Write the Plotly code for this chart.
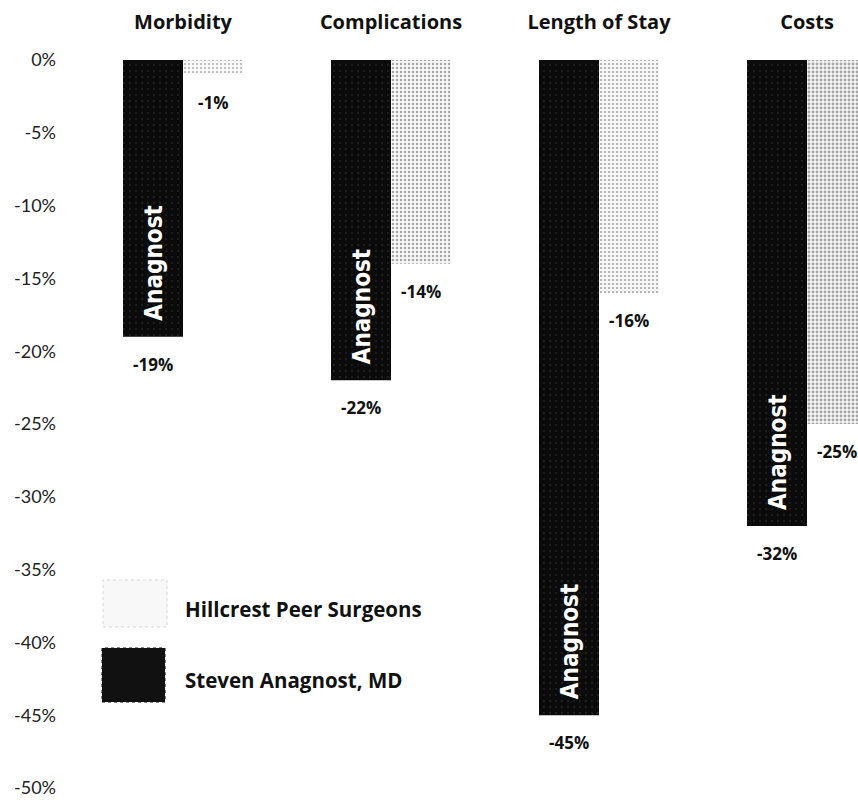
import plotly.graph_objects as go

# Change vs. baseline, in percent
categories = ["Morbidity", "Complications", "Length of Stay", "Costs"]
anagnost = [-19, -22, -45, -32]
peers = [-1, -14, -16, -25]
series_names = ["Steven Anagnost, MD", "Hillcrest Peer Surgeons"]
bar_tag = "Anagnost"

y_ticks = [0, -5, -10, -15, -20, -25, -30, -35, -40, -45, -50]
y_tick_labels = ["0%", "-5%", "-10%", "-15%", "-20%", "-25%",
                 "-30%", "-35%", "-40%", "-45%", "-50%"]

W, H = 858, 802
ML, MR, MT, MB = 79, 0, 38, 7
PLOT_W = W - ML - MR
PLOT_H = H - MT - MB
CAT_PX = 208          # pixel width of one category slot
HALF_BAR_PX = 30      # half of a single bar's width

FONT = "'Open Sans', Lato, sans-serif"
TICK_FONT = "Lato, 'Open Sans', sans-serif"
NARROW = "'Liberation Sans Narrow', 'DejaVu Sans Condensed', 'Arial Narrow', sans-serif"

x_idx = list(range(len(categories)))

# speckle density of the peer bars, per category
peer_grain = [0.16, 0.32, 0.24, 0.42]

fig = go.Figure()
fig.add_bar(
    x=x_idx, y=anagnost, name=series_names[0],
    marker=dict(color="#0d0d0d", line=dict(width=0),
                pattern=dict(shape=".", fgcolor="#3a3a3a", bgcolor="#0b0b0b",
                             size=6, solidity=0.08)),
    showlegend=False, hoverinfo="skip",
)
fig.add_bar(
    x=x_idx, y=peers, name=series_names[1],
    marker=dict(color="#e8e8e8", line=dict(width=0),
                pattern=dict(shape=".", fgcolor="#555555", bgcolor="#f7f7f7",
                             size=4, solidity=peer_grain)),
    showlegend=False, hoverinfo="skip",
)

annotations = []
label_font = dict(family=FONT, size=17, color="#111111")
for i, (a, p) in enumerate(zip(anagnost, peers)):
    # value labels under each bar end
    for v, dx in ((a, -HALF_BAR_PX), (p, HALF_BAR_PX)):
        annotations.append(dict(
            x=i, y=v, xref="x", yref="y", xshift=dx, yshift=-14,
            text=f"<b>{v}%</b>", showarrow=False, yanchor="top",
            xanchor="center", font=label_font,
        ))
    # rotated name inside the dark bar, near its end
    annotations.append(dict(
        x=i, y=a, xref="x", yref="y", xshift=-HALF_BAR_PX + 1, yshift=14,
        text=f"<b>{bar_tag}</b>", showarrow=False, textangle=-90,
        yanchor="bottom", xanchor="center",
        font=dict(family=NARROW, size=24, color="white"),
    ))


def px_x(px):
    return (px - ML) / PLOT_W


def px_y(py):
    return (H - MB - py) / PLOT_H


# legend drawn as large swatches with labels
legend_rows = [
    (series_names[1], "#f8f8f8", "#d8d8d8", 580, 627, 103, 167),
    (series_names[0], "#111111", "#111111", 648, 702, 102, 165),
]
shapes = []
for name, fill, edge, y0, y1, x0, x1 in legend_rows:
    shapes.append(dict(
        type="rect", xref="paper", yref="paper",
        x0=px_x(x0), x1=px_x(x1), y0=px_y(y1), y1=px_y(y0),
        fillcolor=fill, line=dict(color=edge, width=1, dash="dot"),
        layer="above",
    ))
    annotations.append(dict(
        x=px_x(183), y=px_y((y0 + y1) / 2 + 5), xref="paper", yref="paper",
        text=f"<b>{name}</b>", showarrow=False, xanchor="left",
        yanchor="middle", font=dict(family=FONT, size=20.5, color="#111111"),
    ))

px_per_unit = 728 / 50
y_top = (60 - MT) / px_per_unit
y_bot = -50 - (H - MB - 788) / px_per_unit

fig.update_layout(
    width=W, height=H,
    margin=dict(l=ML, r=MR, t=MT, b=MB, pad=0),
    paper_bgcolor="white", plot_bgcolor="white",
    barmode="group", bargap=1 - 4 * HALF_BAR_PX / CAT_PX,
    bargroupgap=0,
    showlegend=False,
    annotations=annotations, shapes=shapes,
    xaxis=dict(
        side="top", range=[-0.5, -0.5 + PLOT_W / CAT_PX],
        tickmode="array", tickvals=x_idx,
        ticktext=[f"<b>{c}</b>" for c in categories],
        showgrid=False, zeroline=False, showline=False, ticks="",
        ticklabelstandoff=4,
        tickfont=dict(family=FONT, size=20, color="#111111"),
        fixedrange=True,
    ),
    yaxis=dict(
        range=[y_bot, y_top], tickmode="array", tickvals=y_ticks,
        ticktext=y_tick_labels, showgrid=False, zeroline=False,
        showline=False, ticks="", ticklabelstandoff=22,
        tickfont=dict(family=TICK_FONT, size=18, color="#222222"),
        fixedrange=True,
    ),
)

fig.write_html("out.html")
